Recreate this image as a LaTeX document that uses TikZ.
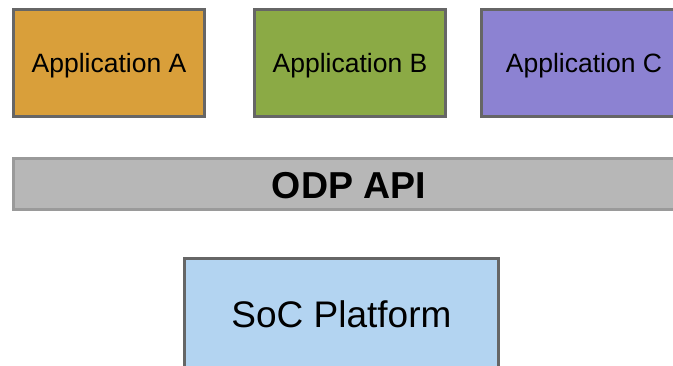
\documentclass[tikz,border=0pt]{standalone}
\usepackage{fontspec}
\setmainfont{Liberation Sans}
\usepackage{tikz}
\usetikzlibrary{positioning, calc}

\definecolor{appA}{HTML}{D99F3A}
\definecolor{appB}{HTML}{8BAA45}
\definecolor{appC}{HTML}{8C82D2}
\definecolor{apibar}{HTML}{B7B7B7}
\definecolor{socbox}{HTML}{B3D4F1}
\definecolor{edgegray}{HTML}{666666}
\definecolor{bargray}{HTML}{9A9A9A}

\begin{document}
\begin{tikzpicture}[x=1pt, y=-1pt]
\tikzset{app box/.style={
    draw=edgegray, line width=3pt,
    minimum width=191pt, minimum height=107pt,
    inner sep=0pt, anchor=center, text depth=0pt,
    font=\fontsize{26.5}{32}\selectfont
  },
  api bar/.style={
    draw=bargray, fill=apibar, line width=3pt,
    minimum width=700pt, minimum height=51pt,
    inner sep=0pt
  },
  api label/.style={
    inner sep=0pt, text depth=0pt,
    font=\fontsize{37.5}{44}\selectfont\bfseries
  },
  soc/.style={
    draw=edgegray, fill=socbox, line width=3pt,
    minimum width=314pt, minimum height=110pt,
    inner sep=0pt, text depth=0pt,
    font=\fontsize{37}{44}\selectfont
  }
}

\useasboundingbox (0,0) rectangle (673,366);

% applications on top
\node[app box, fill=appA] (appa) at (109,63) {Application A};
\node[app box, fill=appB] (appb) at (350,63) {Application B};
\node[app box, fill=appC, minimum width=205pt] (appc) at (584,63) {Application C};

% API layer
\node[api bar, anchor=west] (odp) at (12,184) {};
\node[api label] (odplabel) at (349,185) {ODP API};

% platform underneath
\node[soc] (platform) at (341.5,314) {SoC Platform};

\end{tikzpicture}
\end{document}
